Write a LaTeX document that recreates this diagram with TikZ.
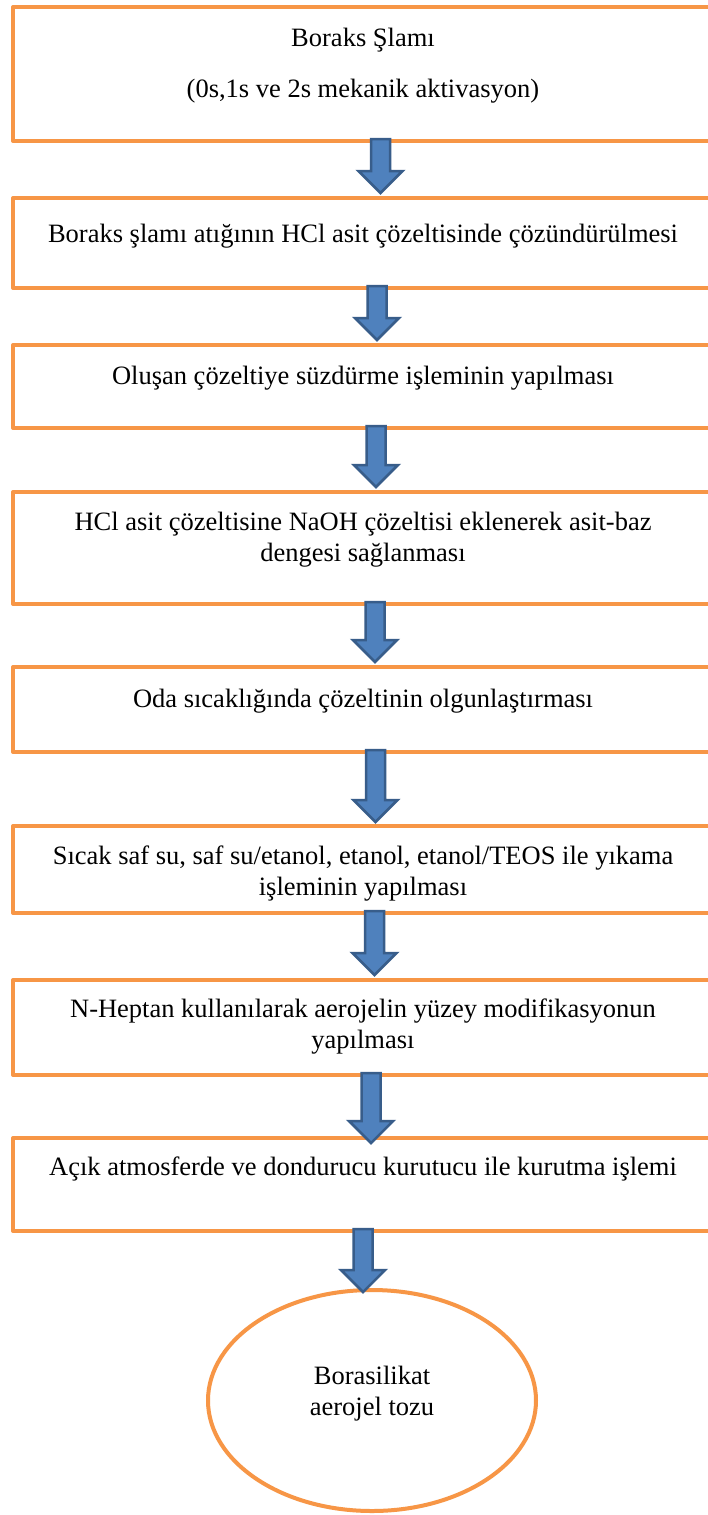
\documentclass[tikz,border=0pt]{standalone}
\usepackage{fontspec}
\setmainfont{Liberation Serif}
\usetikzlibrary{calc,shapes.geometric}
\definecolor{boxorange}{HTML}{F79646}
\definecolor{arrowfill}{HTML}{4F81BD}
\definecolor{arrowline}{HTML}{385D8A}
\tikzset{
  stepbox/.style={draw=boxorange, line width=4pt, line join=round, rectangle, outer sep=0pt, inner sep=0pt, minimum width=700pt},
  endoval/.style={draw=boxorange, line width=4pt, ellipse, outer sep=0pt, inner sep=0pt, minimum width=328pt, minimum height=221pt},
  txt/.style={align=center, inner sep=0pt, anchor=base, font=\fontsize{26.5pt}{31pt}\selectfont},
  blockarrow/.style={draw=arrowline, fill=arrowfill, line width=2.5pt, line join=miter}
}
\newcommand\flowarrow[4]{%
  \draw[blockarrow] let \p1=([xshift=#3]#1.south), \p2=([xshift=#3,yshift=#4]#2.north) in
    (\x1-9.5pt,\y1+2pt) -- (\x1+9.5pt,\y1+2pt) -- (\x1+9.5pt,\y2+22pt) -- (\x1+22pt,\y2+22pt)
    -- (\x1,\y2) -- (\x1-22pt,\y2+22pt) -- (\x1-9.5pt,\y2+22pt) -- cycle;}
\begin{document}
\begin{tikzpicture}[x=1pt,y=1pt]
\useasboundingbox (0,0) rectangle (708,-1515);
\clip (0,0) rectangle (708,-1515);
\fill[white] (0,0) rectangle (708,-1515);

\node[stepbox, minimum height=134pt] (b1) at (363,-74) {};
\node[stepbox, minimum height=90pt]  (b2) at (363,-243) {};
\node[stepbox, minimum height=83pt]  (b3) at (363,-386.5) {};
\node[stepbox, minimum height=112pt] (b4) at (363,-548) {};
\node[stepbox, minimum height=85pt]  (b5) at (363,-709.5) {};
\node[stepbox, minimum height=87pt]  (b6) at (363,-869.5) {};
\node[stepbox, minimum height=95pt]  (b7) at (363,-1027.5) {};
\node[stepbox, minimum height=93pt]  (b8) at (363,-1184.5) {};
\node[endoval] (e) at (372,-1400.5) {};

% multi-line texts: base anchor is the baseline of the last line
\node[txt] (t1) at (363,-97) {Boraks Şlamı\\[20pt](0s,1s ve 2s mekanik aktivasyon)};
\node[txt] (t2) at (363,-242) {Boraks şlamı atığının HCl asit çözeltisinde çözündürülmesi};
\node[txt] (t3) at (363,-384) {Oluşan çözeltiye süzdürme işleminin yapılması};
\node[txt] (t4) at (363,-561) {HCl asit çözeltisine NaOH çözeltisi eklenerek asit-baz\\dengesi sağlanması};
\node[txt] (t5) at (363,-707) {Oda sıcaklığında çözeltinin olgunlaştırması};
\node[txt] (t6) at (363,-895) {Sıcak saf su, saf su/etanol, etanol, etanol/TEOS ile yıkama\\işleminin yapılması};
\node[txt] (t7) at (363,-1048) {N-Heptan kullanılarak aerojelin yüzey modifikasyonun\\yapılması};
\node[txt] (t8) at (363,-1175) {Açık atmosferde ve dondurucu kurutucu ile kurutma işlemi};
\node[txt] (t9) at (372,-1415) {Borasilikat\\aerojel tozu};

\flowarrow{b1}{b2}{17.5pt}{5pt}
\flowarrow{b2}{b3}{14pt}{5pt}
\flowarrow{b3}{b4}{13pt}{5pt}
\flowarrow{b4}{b5}{12pt}{5pt}
\flowarrow{b5}{b6}{12.5pt}{4pt}
\flowarrow{b6}{b7}{11.5pt}{5pt}
\flowarrow{b7}{b8}{8pt}{-5pt}
\flowarrow{b8}{e}{0pt}{-2pt}
\end{tikzpicture}
\end{document}
